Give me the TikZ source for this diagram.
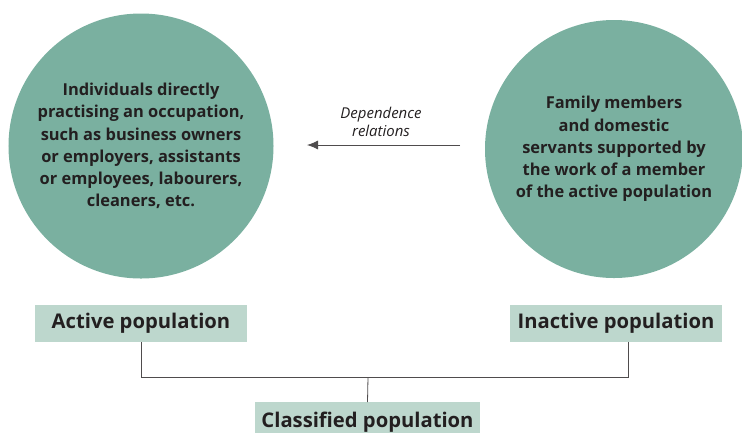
\documentclass[tikz,border=0pt]{standalone}
\usepackage{fontspec}
\setmainfont{Open Sans}
\usetikzlibrary{arrows.meta}
\definecolor{circfill}{HTML}{7AB0A0}
\definecolor{boxfill}{HTML}{BDD7CD}
\definecolor{txt}{HTML}{231F20}
\begin{document}
\begin{tikzpicture}[x=1bp,y=-1bp,
  bubble/.style={circle,fill=circfill,inner sep=0pt,align=center,text=txt,
    font=\bfseries\fontsize{16.5}{22.3}\selectfont},
  label box/.style={fill=boxfill,text=txt,inner sep=0pt,
    font=\bfseries\fontsize{20.3}{22}\selectfont},
  conn/.style={draw=txt!80,line width=0.8bp}]
\useasboundingbox (0,0) rectangle (742,432);
\node[bubble,minimum size=265bp] (lc) at (141,146) {Individuals directly\\practising an occupation,\\such as business owners\\or employers, assistants\\or employees, labourers,\\cleaners, etc.};
\node[bubble,minimum size=258bp] (rc) at (614,149) {Family members\\and domestic\\servants supported by\\the work of a member\\of the active population};
\coordinate (as) at (460,145);
\coordinate (ae) at (307,145);
\draw[conn,-{Latex[length=11bp,width=9bp]}] (as) -- (ae);
\node[align=center,text=txt,font=\itshape\fontsize{15}{18}\selectfont] (dep) at (381,122) {Dependence\\relations};
\node[label box,minimum width=212bp,minimum height=37bp] (act) at (141,323.5) {Active population};
\node[label box,minimum width=212bp,minimum height=37bp] (inact) at (616,323.5) {Inactive population};
\node[label box,minimum width=225bp,minimum height=40bp,anchor=north] (cls) at (367.5,402) {\raisebox{-5bp}{Classified population}};
\coordinate (jn) at (368,377);
\draw[conn] (act.south) -- (act.south |- jn) -| ([xshift=12bp]inact.south);
\draw[conn] (jn) -- (cls.north);
\end{tikzpicture}
\end{document}
